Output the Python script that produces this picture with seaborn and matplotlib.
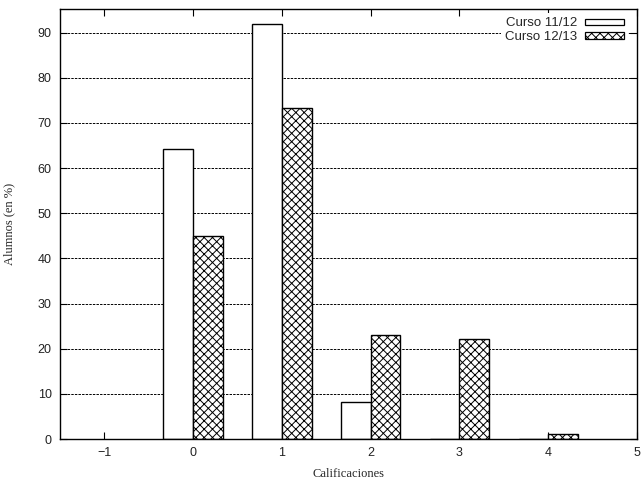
import matplotlib
matplotlib.use("Agg")
import matplotlib.pyplot as plt
import seaborn as sns
import pandas as pd

notas = [0, 1, 2, 3, 4]
curso_1112 = [64.3, 91.8, 8.2, 0.0, 0.0]
curso_1213 = [44.9, 73.3, 23.0, 22.2, 1.2]
cursos = ["Curso 11/12", "Curso 12/13"]
xticks = [-1, 0, 1, 2, 3, 4, 5]
yticks = [0, 10, 20, 30, 40, 50, 60, 70, 80, 90]

df = pd.DataFrame({
    "nota": notas * 2,
    "pct": curso_1112 + curso_1213,
    "curso": [cursos[0]] * len(notas) + [cursos[1]] * len(notas),
})

sns.set_style("white")
plt.rcParams["font.family"] = ["Liberation Sans", "DejaVu Sans"]
plt.rcParams["hatch.linewidth"] = 0.7

fig = plt.figure(figsize=(6.41, 4.79), dpi=100)
ax = fig.add_axes([0.0936, 0.0835, 0.9002, 0.8975])

sns.barplot(data=df, x="nota", y="pct", hue="curso", native_scale=True,
            width=0.67, palette=["white", "white"], edgecolor="black",
            linewidth=1.0, saturation=1, errorbar=None, ax=ax, zorder=3)

for bar in ax.containers[1]:
    bar.set_hatch("xxxx")

ax.set_xlim(-1.5, 5)
ax.set_ylim(0, 95.2)
ax.set_xticks(xticks)
ax.set_xticklabels([f"{t}".replace("-", "\u2212") for t in xticks], fontsize=9)
ax.set_yticks(yticks)
ax.set_yticklabels([str(t) for t in yticks], fontsize=9)

for y in yticks[1:]:
    ax.axhline(y, color="black", linewidth=0.7, linestyle=(0, (2.5, 1.2)), zorder=1)

ax.tick_params(direction="in", length=5, width=0.8, top=True, right=True,
               bottom=True, left=True, color="black", labelcolor="#222222", pad=6)
for s in ax.spines.values():
    s.set_color("black")
    s.set_linewidth(1.0)
    s.set_zorder(5)

ax.set_xlabel("Calificaciones", family=["Liberation Serif"], fontsize=9, labelpad=6)
ax.set_ylabel("Alumnos (en %)", family=["Liberation Serif"], fontsize=9, labelpad=16)

leg = ax.legend(loc="upper right", frameon=True, markerfirst=False, fontsize=9.5,
                handlelength=3.0, handleheight=0.35, handletextpad=0.6,
                labelspacing=0.15, borderaxespad=0.0, borderpad=0.3,
                bbox_to_anchor=(0.985, 0.99), fancybox=False)
leg.get_frame().set_facecolor("white")
leg.get_frame().set_edgecolor("none")
leg.get_frame().set_alpha(1)
leg.set_zorder(4)
for h in leg.legend_handles:
    h.set_edgecolor("black")
    h.set_facecolor("white")
    h.set_linewidth(0.9)
leg.legend_handles[1].set_hatch("xxxx")

fig.savefig("out.png", dpi=100)
